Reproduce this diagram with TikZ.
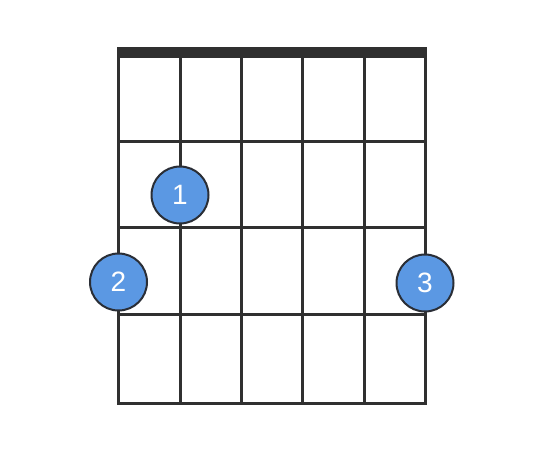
\documentclass[tikz,border=0pt]{standalone}
\usepackage{fontspec}
\setmainfont{Liberation Sans}
\definecolor{gridc}{HTML}{303030}
\definecolor{dotfill}{HTML}{5B98E3}
\definecolor{dotline}{HTML}{2A2E36}
\begin{document}
\begin{tikzpicture}[x=1pt,y=-1pt,
  gridline/.style={draw=gridc,line width=3pt},
  finger/.style={circle,draw=dotline,line width=2pt,fill=dotfill,minimum size=57pt,inner sep=0pt,text=white,font=\fontsize{28}{28}\selectfont}]
\useasboundingbox (0,0) rectangle (548,455);
\fill[white] (0,0) rectangle (548,455);
% strings
\foreach \x in {118.5,180,241,302,364,425}
  \draw[gridline] (\x,52) -- (\x,404.5);
% frets
\foreach \y in {141,227.5,314.5,403}
  \draw[gridline] (117,\y) -- (426.5,\y);
% nut
\fill[gridc] (117,47) rectangle (426.5,57.5);
% fingers
\node[finger] (f1) at (180,195) {1};
\node[finger] (f2) at (118.5,282) {2};
\node[finger] (f3) at (425,283) {3};
\end{tikzpicture}
\end{document}
